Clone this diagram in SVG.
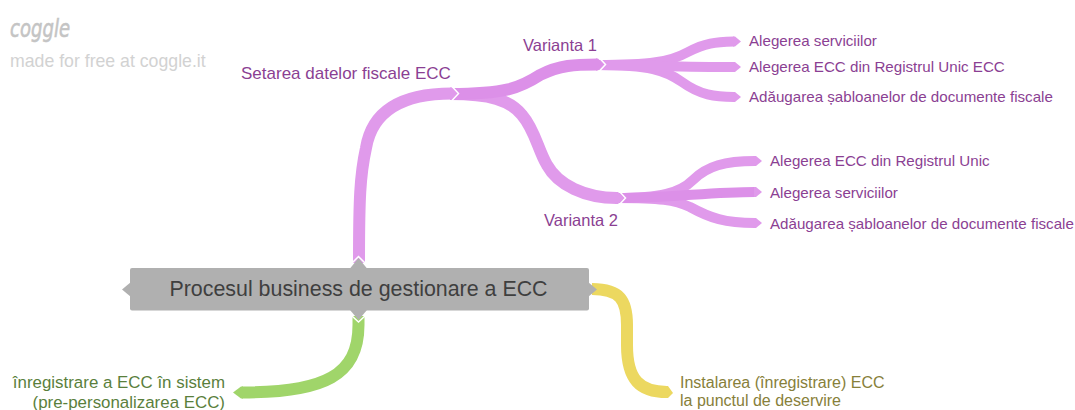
<svg xmlns="http://www.w3.org/2000/svg" width="1075" height="410" viewBox="0 0 1075 410">
<style>
text{font-family:"Liberation Sans",Arial,sans-serif}
.b{fill:none;stroke-linecap:butt}
.p{stroke:#e09aeb}
.d{stroke:#dc90e8}
.t1{stroke-width:12}
.t2{stroke-width:10}
.tp{fill:#e09aeb}
.td{fill:#dc90e8}
.w{fill:none;stroke:#fff;stroke-width:1.500}
.lp{fill:#8b3f93;font-size:15.150px}
.lv{fill:#8b3f93;font-size:16.500px}
</style>
<rect width="1075" height="410" fill="#fff"/>
<g id="watermark">
<text x="10" y="37" font-size="24" font-style="italic" fill="#c4c4c4" stroke="#c4c4c4" stroke-width="0.600" style="font-family:'DejaVu Sans',sans-serif" textLength="60" lengthAdjust="spacingAndGlyphs">coggle</text>
<text x="10" y="67" font-size="17.700" fill="#d2d2d2">made for free at coggle.it</text>
</g>
<g id="connectors">
<path class="b p t2" d="M597 65C650 65 670 62 688 52C705 43 715 42 734 41.500"/>
<path class="b p t2" d="M597 65C650 65 665 70 682 82C700 95 715 97 734 97"/>
<path class="b p t2" d="M597 65C640 65 680 67 734 67"/>
<polygon class="tp" points="733,36.500 735,36.500 741,41.500 735,46.500 733,46.500"/>
<polygon class="tp" points="733,62 735,62 741,67 735,72 733,72"/>
<polygon class="tp" points="733,92 735,92 741,97 735,102 733,102"/>
<path class="b p t2" d="M617 198C660 198 680 193 693 180C707 166 725 161 755 161"/>
<path class="b p t2" d="M617 198C660 198 675 200 690 207C710 218 725 223 755 223"/>
<path class="b d t2" d="M617 198C670 198 710 192 755 192"/>
<polygon class="tp" points="754,156 756,156 762,161 756,166 754,166"/>
<polygon class="tp" points="754,187 756,187 762,192 756,197 754,197"/>
<polygon class="tp" points="754,218 756,218 762,223 756,228 754,228"/>
<path class="b p t1" d="M450 94C490 94 510 100 522 115C535 130 538 150 547 165C558 185 585 198 617 198"/>
<polygon class="tp" points="615,192 618,192 624,198 618,204 615,204"/>
<path class="b d t1" d="M450 94C505 94 520 88 540 75C560 65 575 64.500 597 64.500"/>
<polygon class="td" points="596,58.500 598,58.500 604,64.500 598,70.500 596,70.500"/>
<path class="b p t1" d="M359 263C359 200 360 175 366 148C372 112 400 93.500 452 93.500"/>
<polygon class="tp" points="450,87.500 452,87.500 457,93.500 452,99.500 450,99.500"/>
<path class="w" d="M452 86.500 458.500 93.500 452 100.500"/>
<path class="w" d="M599 57.500 605.500 64.500 599 71.500"/>
<path class="w" d="M619 191 625.500 198 619 205"/>
<path class="b t1" stroke="#a0d56a" d="M358.500 316V325C358.500 375 325 392.500 242 392.500"/>
<polygon fill="#a0d56a" points="243,386.500 241,386.500 233,392.500 241,398.500 243,398.500"/>
<path class="b t1" stroke="#ecd860" d="M592 289C620 289 627 300 627 325V345C627 380 640 392 667 392"/>
<polygon fill="#ecd860" points="666,386 668,386 673,393 668,398 666,398"/>
</g>
<g id="node-root">
<rect x="130" y="268" width="459" height="42.500" rx="2" fill="#b0b0b0"/>
<polygon fill="#b0b0b0" points="131,282 122,289.500 131,297"/>
<polygon fill="#b0b0b0" points="588,282 597,289.500 588,297"/>
<polygon fill="#b0b0b0" points="350,268.500 358.500,258 367,268.500"/>
<polygon fill="#b0b0b0" points="350,310 358.500,320 367,310"/>
<path class="w" d="M352 263 358.500 256.500 365 263M352 316 358.500 322 365 316"/>
<text x="358.500" y="296" font-size="21.400" fill="#3f3f3f" text-anchor="middle">Procesul business de gestionare a ECC</text>
</g>
<g id="node-setarea"><text x="241" y="79" class="lv" style="font-size:17px">Setarea datelor fiscale ECC</text></g>
<g id="node-v1"><text x="523" y="51" class="lv">Varianta 1</text></g>
<g id="node-v2"><text x="544" y="226" class="lv">Varianta 2</text></g>
<g id="node-v1a"><text x="749" y="46" class="lp">Alegerea serviciilor</text></g>
<g id="node-v1b"><text x="749" y="72" class="lp">Alegerea ECC din Registrul Unic ECC</text></g>
<g id="node-v1c"><text x="749" y="102" class="lp">Adăugarea șabloanelor de documente fiscale</text></g>
<g id="node-v2a"><text x="770" y="166" class="lp">Alegerea ECC din Registrul Unic</text></g>
<g id="node-v2b"><text x="770" y="198" class="lp">Alegerea serviciilor</text></g>
<g id="node-v2c"><text x="770" y="229" class="lp">Adăugarea șabloanelor de documente fiscale</text></g>
<g id="node-green" fill="#5a7f3c" font-size="16.900"><text x="225" y="388" text-anchor="end">înregistrare a ECC în sistem</text><text x="225" y="408" text-anchor="end">(pre-personalizarea ECC)</text></g>
<g id="node-yellow" fill="#87803a" font-size="16"><text x="680" y="388">Instalarea (înregistrare) ECC</text><text x="680" y="406">la punctul de deservire</text></g>
</svg>
